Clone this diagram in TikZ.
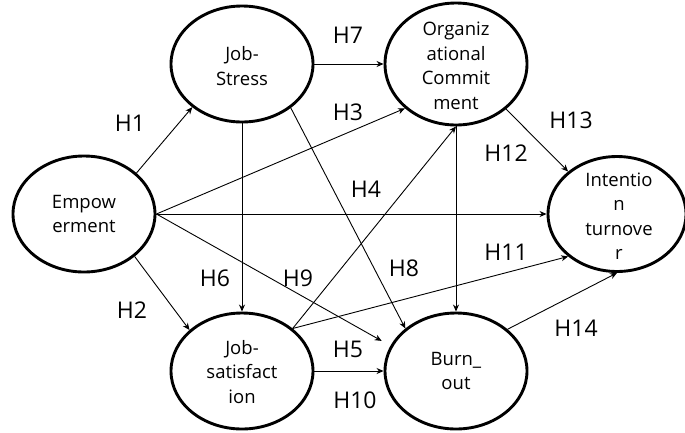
\documentclass[tikz,border=0pt]{standalone}
\usepackage{fontspec}
\setmainfont{Open Sans}
\usetikzlibrary{shapes.geometric,arrows.meta}
\begin{document}
\begin{tikzpicture}[x=1pt,y=-1pt,
  cons/.style={ellipse,draw,line width=2.9pt,minimum width=142pt,minimum height=116pt,inner sep=0pt},
  ctext/.style={align=center,inner sep=0pt,font=\fontsize{18.5}{24.5}\selectfont},
  hlab/.style={inner sep=0pt,font=\fontsize{23}{26}\selectfont},
  arr/.style={line width=0.9pt,-{Stealth[length=7pt,width=6pt]}}
]
\useasboundingbox (0,0) rectangle (685,432);
\fill[white] (0,0) rectangle (685,432);

\node[cons] (emp) at (84,214) {};
\node[cons] (js) at (242,64) {};
\node[cons,minimum height=122pt] (oc) at (456,64) {};
\node[cons,minimum width=138pt,minimum height=115pt] (it) at (617,214) {};
\node[cons] (sat) at (242,371) {};
\node[cons] (bo) at (456,371) {};

\node[ctext] (empT) at (84,214) {Empow\\erment};
\node[ctext] (jsT) at (242,66) {Job-\\Stress};
\node[ctext] (ocT) at (456,66) {Organiz\\ational\\Commit\\ment};
\node[ctext] (itT) at (619,216) {Intentio\\n\\turnove\\r};
\node[ctext] (satT) at (242,372) {Job-\\satisfact\\ion};
\node[ctext] (boT) at (456,371) {Burn\_\\out};

\draw[arr] (emp.38) -- (js.221);
\draw[arr] (emp.320) -- (sat.142);
\draw[arr] (emp.0) -- (oc.221);
\draw[arr] (emp.0) -- (it.180);
\draw[arr,shorten >=10pt] (emp.0) -- (bo.159);
\draw[arr] (js.south) -- (sat.north);
\draw[arr] (js.east) -- (oc.west);
\draw[arr] (js.318) -- (bo.140);
\draw[arr] (sat.40) -- (oc.south);
\draw[arr] (sat.40) -- (it.221);
\draw[arr] (sat.east) -- (bo.west);
\draw[arr] (oc.south) -- (bo.north);
\draw[arr] (oc.318.6) -- (it.139.4);
\draw[arr] (bo.39.5) -- (it.south);

\node[hlab] (h1) at (130,123) {H1};
\node[hlab] (h2) at (132,310) {H2};
\node[hlab] (h3) at (348,112) {H3};
\node[hlab] (h4) at (366,189) {H4};
\node[hlab] (h5) at (348,349) {H5};
\node[hlab] (h6) at (215,278) {H6};
\node[hlab] (h7) at (348,35) {H7};
\node[hlab] (h8) at (404,268) {H8};
\node[hlab] (h9) at (298,278) {H9};
\node[hlab] (h10) at (355,400) {H10};
\node[hlab] (h11) at (506,252) {H11};
\node[hlab] (h12) at (506,153) {H12};
\node[hlab] (h13) at (571,120) {H13};
\node[hlab] (h14) at (576,328) {H14};
\end{tikzpicture}
\end{document}
